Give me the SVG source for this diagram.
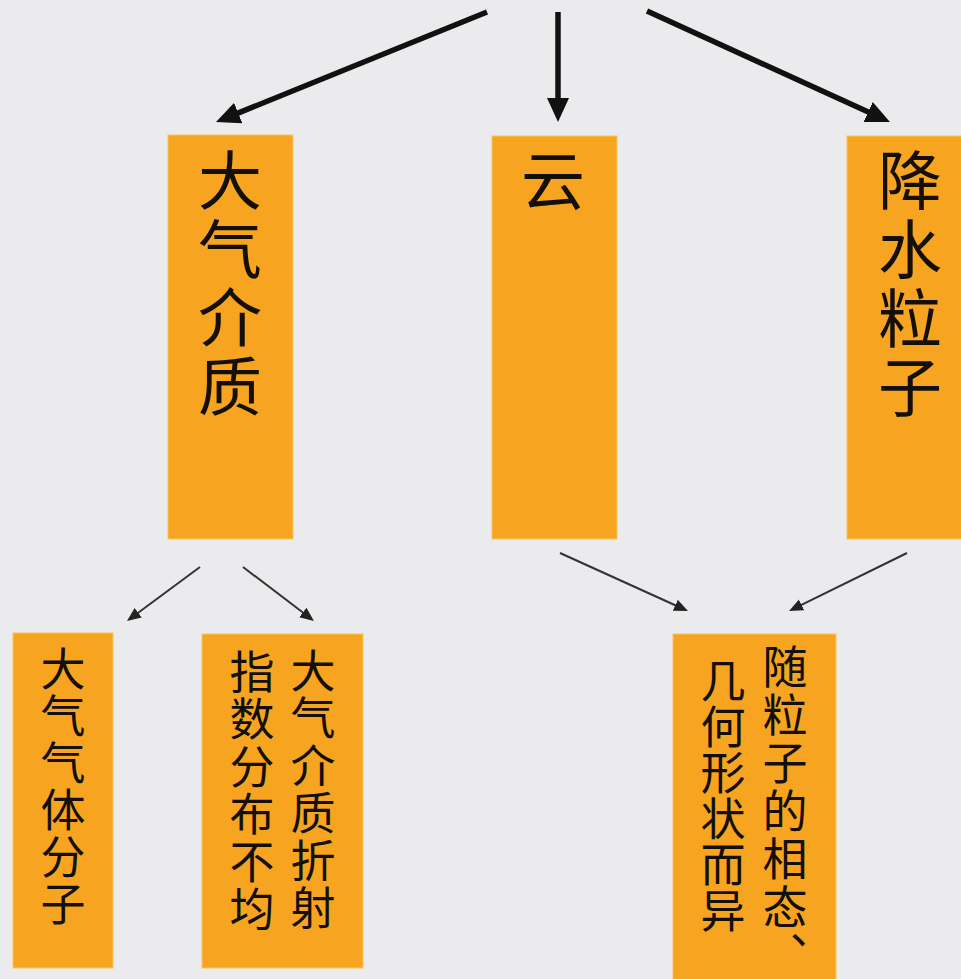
<svg xmlns="http://www.w3.org/2000/svg" width="961" height="979" viewBox="0 0 961 979">
<style>
.box{fill:#F7A521;stroke:#FBC45A;stroke-width:1}
.t{font-family:"Noto Sans CJK SC","Noto Sans CJK JP",sans-serif;fill:#141008}
.v{writing-mode:vertical-rl;text-anchor:start}
.big{font-size:64px}
.small{font-size:45px}
.thick{stroke:#111;stroke-width:5.5;fill:none}
.thin{stroke:#333;stroke-width:2;fill:none}
</style>
<defs>
<marker id="ah" markerUnits="userSpaceOnUse" markerWidth="24" markerHeight="22" refX="5" refY="11" orient="auto" viewBox="0 0 24 22">
<path d="M0,0 L24,11 L0,22 z" fill="#111"/>
</marker>
<marker id="as" markerUnits="userSpaceOnUse" markerWidth="16" markerHeight="14" refX="3" refY="6" orient="auto" viewBox="0 0 16 14">
<path d="M0,0 L14,6 L0,12 z" fill="#222"/>
</marker>
</defs>
<rect width="961" height="979" fill="#EBEAEC"/>
<g id="connectors">
<line class="thick" x1="487" y1="12" x2="233.6" y2="114.9" marker-end="url(#ah)"/>
<line class="thick" x1="558" y1="12" x2="558" y2="103" marker-end="url(#ah)"/>
<line class="thick" x1="647" y1="11" x2="872.7" y2="114.1" marker-end="url(#ah)"/>
<line class="thin" x1="200" y1="567" x2="135.8" y2="614.5" marker-end="url(#as)"/>
<line class="thin" x1="243" y1="567" x2="305.2" y2="614.3" marker-end="url(#as)"/>
<line class="thin" x1="560" y1="553" x2="678" y2="606.5" marker-end="url(#as)"/>
<line class="thin" x1="907" y1="553" x2="798.9" y2="606.1" marker-end="url(#as)"/>
</g>
<g id="node-medium">
<rect class="box" x="168" y="135" width="125" height="404"/>
<text class="t big v" x="230" y="147.7" writing-mode="vertical-rl" style="letter-spacing:4.5px">大气介质</text>
</g>
<g id="node-cloud">
<rect class="box" x="492" y="136" width="125" height="403"/>
<text class="t big v" x="553" y="147.7" writing-mode="vertical-rl">云</text>
</g>
<g id="node-precip">
<rect class="box" x="847" y="136" width="120" height="403"/>
<text class="t big v" x="910" y="147.7" writing-mode="vertical-rl" style="letter-spacing:5px">降水粒子</text>
</g>
<g id="node-gas">
<rect class="box" x="13" y="633" width="100" height="335"/>
<text class="t small v" x="63" y="646.4" writing-mode="vertical-rl" style="letter-spacing:2px">大气气体分子</text>
</g>
<g id="node-refraction">
<rect class="box" x="202" y="634" width="161" height="334"/>
<text class="t small v" x="313" y="648" writing-mode="vertical-rl" style="letter-spacing:2.5px">大气介质折射</text>
<text class="t small v" x="252" y="649.4" writing-mode="vertical-rl" style="letter-spacing:2.5px">指数分布不均</text>
</g>
<g id="node-particle">
<rect class="box" x="673" y="634" width="163" height="350"/>
<text class="t small v" x="785" y="644" writing-mode="vertical-rl" style="letter-spacing:3px">随粒子的相态、</text>
<text class="t small v" x="723" y="658.4" writing-mode="vertical-rl" style="letter-spacing:1px">几何形状而异</text>
</g>
</svg>
